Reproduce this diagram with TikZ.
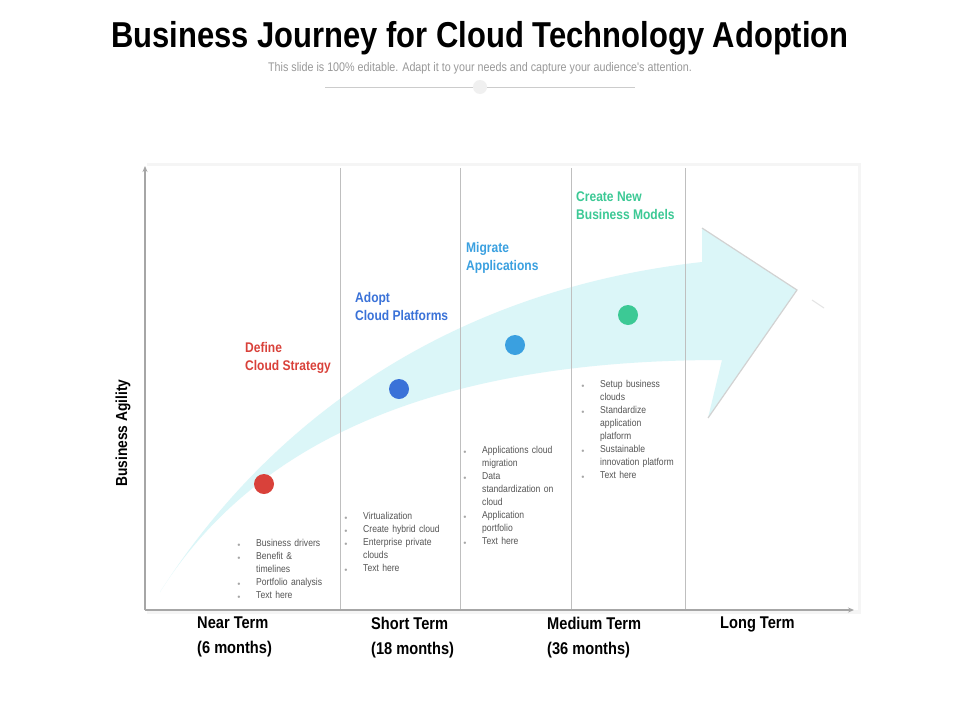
\documentclass[tikz,border=0pt]{standalone}
\usepackage{fontspec}
\setmainfont{Liberation Sans}
\newfontfamily\narrowf[FakeStretch=0.86]{Liberation Sans}
\usetikzlibrary{arrows.meta}
\definecolor{cred}{HTML}{D9413A}
\definecolor{cblue}{HTML}{3A72D8}
\definecolor{clblue}{HTML}{3AA0E0}
\definecolor{cgreen}{HTML}{3CC995}
\definecolor{arrowfill}{HTML}{DBF6F8}
\definecolor{txt}{HTML}{555555}
\tikzset{
  stage/.style={font=\narrowf\bfseries\fontsize{14}{18}\selectfont, align=left, anchor=north west, inner sep=0pt},
  blist/.style={font=\narrowf\fontsize{10}{13}\selectfont, text=txt, align=left, anchor=north west, inner sep=0pt, text width=#1},
  xlab/.style={font=\narrowf\bfseries\fontsize{17}{25}\selectfont, align=left, anchor=north west, inner sep=0pt},
  dot/.style={circle, minimum size=20pt, inner sep=0pt, fill=#1},
  divider/.style={draw=gray!50, line width=0.6pt},
}
\newcommand{\bl}{\makebox[1.9em][l]{\textcolor{gray!70}{\tiny$\bullet$}}}
\newcommand{\ct}{\hspace*{1.9em}}
\begin{document}
\begin{tikzpicture}[x=1pt,y=-1pt]
\useasboundingbox (0,0) rectangle (960,720);
\fill[white] (0,0) rectangle (960,720);
% title
\node[font=\narrowf\bfseries\fontsize{36}{40}\selectfont] (title) at (480,38) {Business Journey for Cloud Technology Adoption};
\node[font=\narrowf\fontsize{12.5}{14}\selectfont, text=gray!80] (sub) at (480,68) {This slide is 100\% editable. Adapt it to your needs and capture your audience's attention.};
\coordinate (l1) at (325,87); \coordinate (l2) at (635,87);
\draw[gray!40, line width=0.6pt] (l1) -- (l2);
\node[circle, fill=gray!12, minimum size=14pt, inner sep=0pt] (ldot) at (480,87) {};
% panel
\fill[gray!8] (147,163) rectangle (861,614);
\fill[white] (145,166) rectangle (858,610);
% arrow
\coordinate (tail) at (160,592);
\coordinate (hb1) at (702,262); \coordinate (ht) at (702,228);
\coordinate (tip) at (797,290); \coordinate (hb) at (708,418); \coordinate (lb) at (722,360);
\fill[arrowfill] (tail) .. controls (270,420) and (450,290) .. (hb1) -- (ht) -- (tip) -- (hb) -- (lb) .. controls (420,360) and (250,450) .. (tail) -- cycle;
\draw[gray!35, line width=1.2pt] (ht) -- (tip) -- (hb);
\coordinate (fl1) at (812,300); \coordinate (fl2) at (824,308);
\draw[gray!20, line width=1pt] (fl1) -- (fl2);
% dividers
\foreach \x in {340,460,571,685} \draw[divider] (\x,168) -- (\x,610);
% axes
\coordinate (o) at (145,610); \coordinate (yt) at (145,166); \coordinate (xt) at (854,610);
\draw[gray!70, line width=1.2pt, -{Stealth[length=6pt,width=5pt]}] (o) -- (yt);
\draw[gray!70, line width=1.2pt, -{Stealth[length=6pt,width=5pt]}] (o) -- (xt);
\node[rotate=90, font=\narrowf\bfseries\fontsize{16}{18}\selectfont] (ylab) at (123,433) {Business Agility};
% dots
\node[dot=cred] (d1) at (264,484) {};
\node[dot=cblue] (d2) at (399,389) {};
\node[dot=clblue] (d3) at (515,345) {};
\node[dot=cgreen] (d4) at (628,315) {};
% stage labels
\node[stage, text=cred] (s1) at (245,342) {Define\\Cloud Strategy};
\node[stage, text=cblue] (s2) at (355,292) {Adopt\\Cloud Platforms};
\node[stage, text=clblue] (s3) at (466,242) {Migrate\\Applications};
\node[stage, text=cgreen] (s4) at (576,192) {Create New\\Business Models};
% bullets
\node[blist=110pt] (b1) at (237,539) {\bl Business drivers\\\bl Benefit \&\\\ct timelines\\\bl Portfolio analysis\\\bl Text here};
\node[blist=120pt] (b2) at (344,512) {\bl Virtualization\\\bl Create hybrid cloud\\\bl Enterprise private\\\ct clouds\\\bl Text here};
\node[blist=120pt] (b3) at (463,446) {\bl Applications cloud\\\ct migration\\\bl Data\\\ct standardization on\\\ct cloud\\\bl Application\\\ct portfolio\\\bl Text here};
\node[blist=120pt] (b4) at (581,380) {\bl Setup business\\\ct clouds\\\bl Standardize\\\ct application\\\ct platform\\\bl Sustainable\\\ct innovation platform\\\bl Text here};
% x labels
\node[xlab] (x1) at (197,617) {Near Term\\(6 months)};
\node[xlab] (x2) at (371,617) {Short Term\\(18 months)};
\node[xlab] (x3) at (547,617) {Medium Term\\(36 months)};
\node[xlab] (x4) at (720,617) {Long Term};
\end{tikzpicture}
\end{document}
